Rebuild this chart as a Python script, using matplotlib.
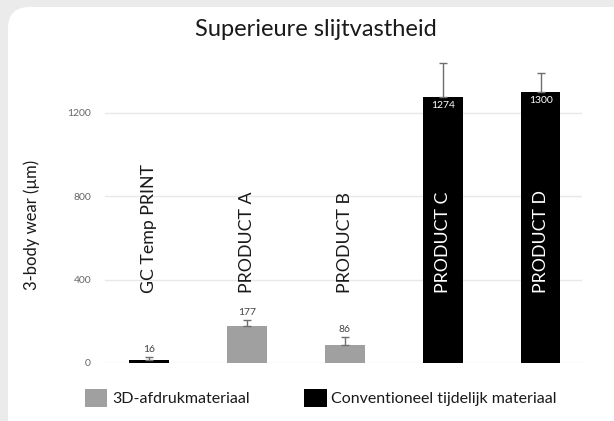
import matplotlib
matplotlib.use("Agg")
import matplotlib.pyplot as plt
from matplotlib.patches import FancyBboxPatch, Patch

plt.rcParams['font.family'] = ['Lato', 'DejaVu Sans']

# data
products = ["GC Temp PRINT", "PRODUCT A", "PRODUCT B", "PRODUCT C", "PRODUCT D"]
wear = [16, 177, 86, 1274, 1300]
wear_err = [13, 29, 40, 163, 91]
bar_colors = ["#000000", "#a0a0a0", "#a0a0a0", "#000000", "#000000"]
label_inside = [False, False, False, True, True]
yticks = [0, 400, 800, 1200]
legend_labels = ["3D-afdrukmateriaal", "Conventioneel tijdelijk materiaal"]
legend_colors = ["#a0a0a0", "#000000"]

fig = plt.figure(figsize=(6.14, 4.21), dpi=100)
fig.patch.set_facecolor("#ebebeb")

# white rounded card behind the chart
card = FancyBboxPatch((8 / 614, -0.2), 1.2, 1.2 - 7 / 421,
                      boxstyle="round,pad=0,rounding_size=0.035",
                      transform=fig.transFigure, facecolor="white",
                      edgecolor="none", zorder=-10, mutation_aspect=614 / 421)
fig.patches.append(card)

ax = fig.add_axes([105 / 614, 58 / 421, 477 / 614, 313 / 421])
ax.set_facecolor("none")

x = range(len(products))
ax.bar(x, wear, width=0.4, color=bar_colors, zorder=3)
ax.errorbar(x, wear, yerr=[[0] * len(wear), wear_err], fmt="none",
            ecolor="#6e6e6e", elinewidth=1, capsize=3, capthick=1, zorder=4)

for i, (name, v, e, inside) in enumerate(zip(products, wear, wear_err, label_inside)):
    ax.text(i, 335, name, rotation=90, ha="center", va="bottom", fontsize=12.8,
            color="white" if inside else "#1a1a1a", zorder=5)
    if inside:
        ax.annotate(str(v), (i, v), xytext=(0, -3), textcoords="offset points",
                    ha="center", va="top", fontsize=7.5, color="white", zorder=5)
    else:
        ax.annotate(str(v), (i, v + e), xytext=(0, 2), textcoords="offset points",
                    ha="center", va="bottom", fontsize=7.5, color="#444444", zorder=5)

ax.set_xlim(-0.45, 4.42)
ax.set_ylim(0, 1500)
ax.set_xticks([])
ax.set_yticks(yticks)
ax.set_yticklabels([str(t) for t in yticks], fontsize=7.5, color="#666666")
ax.tick_params(axis="y", length=0, pad=10)
ax.grid(axis="y", color="#e8e8e8", linewidth=1, zorder=0)
for s in ax.spines.values():
    s.set_visible(False)

ax.set_ylabel("3-body wear (µm)", fontsize=12, color="#1a1a1a")
ax.yaxis.set_label_coords(-0.136, 0.44)

fig.text(316 / 614, 1 - 30 / 421, "Superieure slijtvastheid", ha="center",
         va="center", fontsize=17, color="#1a1a1a")

handles = [Patch(facecolor=c, edgecolor="none") for c in legend_colors]
fig.legend(handles, legend_labels, loc="center", bbox_to_anchor=(321 / 614, 1 - 398 / 421),
           ncol=2, frameon=False, fontsize=11.5, handlelength=1.4, handleheight=1.4,
           handletextpad=0.3, columnspacing=3.4, labelcolor="#1a1a1a")

fig.savefig("out.png", dpi=100, facecolor=fig.get_facecolor())
